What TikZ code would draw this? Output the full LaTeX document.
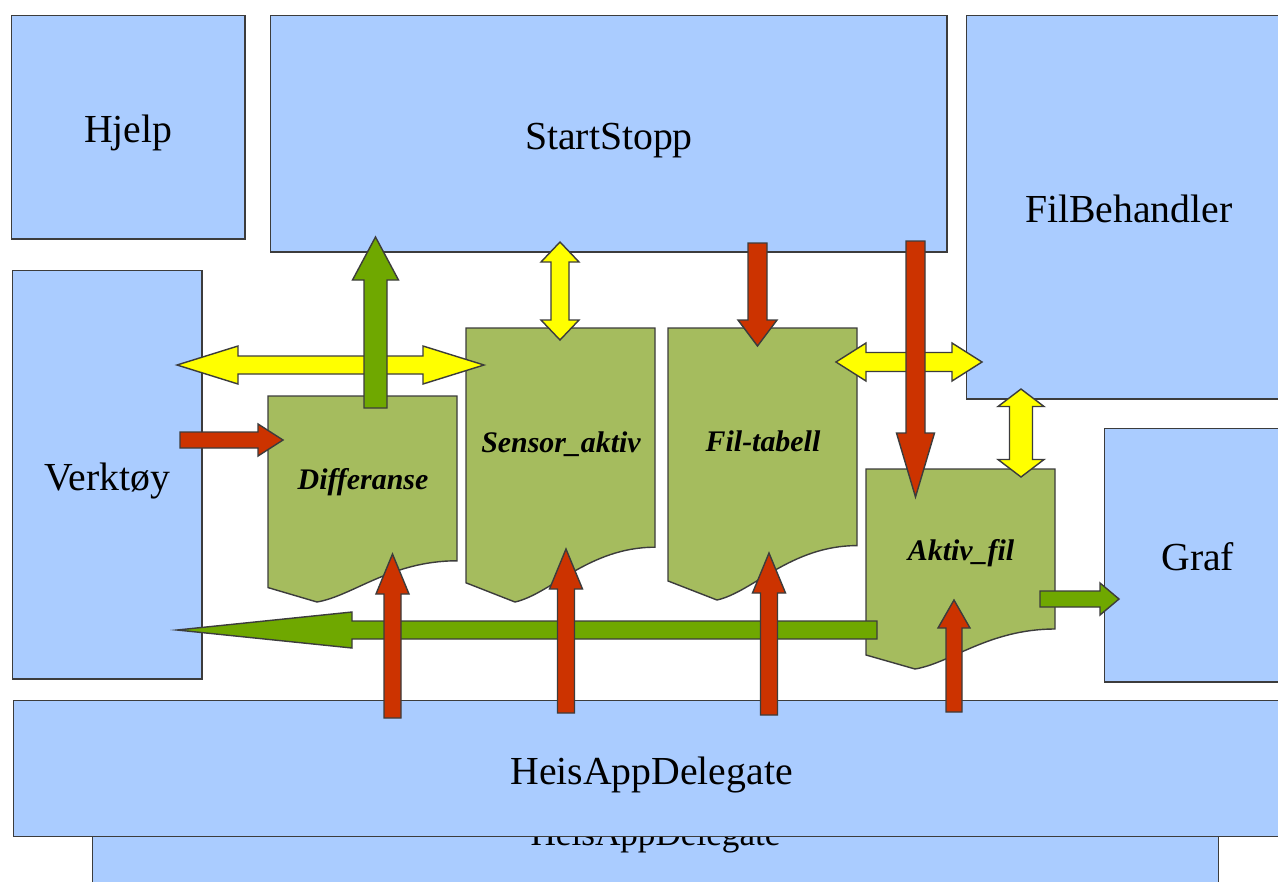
\documentclass[tikz,border=0pt]{standalone}
\usepackage{fontspec}
\setmainfont{Liberation Serif}
\usetikzlibrary{calc}

\definecolor{blaa}{RGB}{170,204,255}
\definecolor{dokgronn}{RGB}{165,188,94}
\definecolor{pilgronn}{RGB}{111,168,0}
\definecolor{pilrod}{RGB}{204,51,0}
\definecolor{pilgul}{RGB}{255,255,0}
\definecolor{kant}{RGB}{60,60,60}

\tikzset{
  boks/.style={draw=kant, line width=0.4pt, fill=blaa, anchor=north west, inner sep=0pt,
    text height=0.41cm, text depth=0.1cm, font=\fontsize{11.3}{13}\selectfont},
  dok/.style={draw=kant, line width=0.4pt, fill=dokgronn},
  doktekst/.style={anchor=base, font=\fontsize{8.5}{10}\selectfont\bfseries\itshape},
  pil/.style={draw=kant, line width=0.4pt},
}

% dokument: x, topp, hoyde, navn, tekst
\newcommand\dokument[5]{
  \draw[dok] (#1,#2) -- ({#1+189},#2) -- ({#1+189},{#2+0.8*#3})
    .. controls ({#1+123},{#2+0.8*#3}) and ({#1+85},{#2+0.97*#3}) .. ({#1+49},{#2+#3})
    -- (#1,{#2+0.93*#3}) -- cycle;
  \node[doktekst] (#4) at ({#1+95},{#2+0.455*#3}) {#5};
}

% pil: farge, hale, spiss, halvt skaft, halvt hode, hodelengde
\newcommand\pil[6]{
  \coordinate (pilrot) at ($(#3)!#6*0.01cm!(#2)$);
  \draw[pil, fill=#1] ($(#2)!#4*0.01cm!90:(#3)$) -- ($(pilrot)!#4*0.01cm!90:(#3)$)
    -- ($(pilrot)!#5*0.01cm!90:(#3)$) -- (#3) -- ($(pilrot)!#5*0.01cm!-90:(#3)$)
    -- ($(pilrot)!#4*0.01cm!-90:(#3)$) -- ($(#2)!#4*0.01cm!-90:(#3)$) -- cycle;
}

% dobbelpil: farge, spiss a, spiss b, halvt skaft, halvt hode, hodelengde
\newcommand\dobbelpil[6]{
  \coordinate (pilrotA) at ($(#2)!#6*0.01cm!(#3)$);
  \coordinate (pilrotB) at ($(#3)!#6*0.01cm!(#2)$);
  \draw[pil, fill=#1] (#2) -- ($(pilrotA)!#5*0.01cm!90:(#3)$) -- ($(pilrotA)!#4*0.01cm!90:(#3)$)
    -- ($(pilrotB)!#4*0.01cm!-90:(#2)$) -- ($(pilrotB)!#5*0.01cm!-90:(#2)$) -- (#3)
    -- ($(pilrotB)!#5*0.01cm!90:(#2)$) -- ($(pilrotB)!#4*0.01cm!90:(#2)$)
    -- ($(pilrotA)!#4*0.01cm!-90:(#3)$) -- ($(pilrotA)!#5*0.01cm!-90:(#3)$) -- cycle;
}

\begin{document}
\begin{tikzpicture}[x=0.01cm, y=-0.01cm]
  \useasboundingbox (0,0) rectangle (1278,881);
  \clip (0,0) rectangle (1278,881);
  \fill[white] (0,0) rectangle (1278,881);

  % moduler
  \node[boks, minimum width=11.25cm, minimum height=1.39cm, font=\fontsize{10}{12}\selectfont] (heisappbak) at (92,760) {HeisAppDelegate};
  \node[boks, minimum width=2.33cm, minimum height=2.23cm] (hjelp) at (11,15) {Hjelp};
  \node[boks, minimum width=6.76cm, minimum height=2.36cm] (startstopp) at (270,15) {StartStopp};
  \node[boks, minimum width=3.24cm, minimum height=3.83cm] (filbehandler) at (966,15) {FilBehandler};
  \node[boks, minimum width=1.89cm, minimum height=4.08cm] (verktoy) at (12,270) {Verktøy};
  \node[boks, minimum width=1.86cm, minimum height=2.53cm] (graf) at (1104,428) {Graf};
  \node[boks, minimum width=12.75cm, minimum height=1.36cm] (heisapp) at (13,700) {HeisAppDelegate};

  % data
  \dokument{268}{396}{206}{differanse}{Differanse}
  \dokument{466}{328}{274}{sensor}{Sensor\_aktiv}
  \dokument{668}{328}{272}{filtabell}{Fil-tabell}
  \dokument{866}{469}{200}{aktivfil}{Aktiv\_fil}

  \coordinate (gul1a) at (177,365);   \coordinate (gul1b) at (484,365);
  \coordinate (gul2a) at (560,242);   \coordinate (gul2b) at (560,340);
  \coordinate (gul3a) at (836,362);   \coordinate (gul3b) at (982,362);
  \coordinate (gul4a) at (1021,389);  \coordinate (gul4b) at (1021,477);

  \coordinate (gronn1a) at (375.5,408); \coordinate (gronn1b) at (375.5,237);
  \coordinate (gronn2a) at (877,630);   \coordinate (gronn2b) at (177,630);
  \coordinate (gronn3a) at (1040,599);  \coordinate (gronn3b) at (1119,599);

  \coordinate (rod1a) at (180,440);     \coordinate (rod1b) at (283,440);
  \coordinate (rod2a) at (757.5,243);   \coordinate (rod2b) at (757.5,346);
  \coordinate (rod3a) at (915.5,241);   \coordinate (rod3b) at (915.5,497);
  \coordinate (rod4a) at (954,712);     \coordinate (rod4b) at (954,600);

  \dobbelpil{pilgul}{gul1a}{gul1b}{9}{19}{61}
  \dobbelpil{pilgul}{gul2a}{gul2b}{9}{19}{20}
  \dobbelpil{pilgul}{gul3a}{gul3b}{9.5}{19}{30}
  \dobbelpil{pilgul}{gul4a}{gul4b}{11.5}{23}{17.5}

  \pil{pilgronn}{gronn1a}{gronn1b}{11.5}{23}{43}
  \pil{pilgronn}{gronn2a}{gronn2b}{9}{18}{175}
  \pil{pilgronn}{gronn3a}{gronn3b}{8}{16}{19}

  \pil{pilrod}{rod1a}{rod1b}{8}{16}{25}
  \pil{pilrod}{rod2a}{rod2b}{9.5}{19.5}{26}
  \pil{pilrod}{rod3a}{rod3b}{9.5}{19}{64}
  \pil{pilrod}{rod4a}{rod4b}{8}{16}{28}
  \foreach \i/\x/\bunn/\topp in {5/392.5/718/554, 6/566/713/549, 7/769/715/553}{
    \coordinate (rod\i a) at (\x,\bunn);
    \coordinate (rod\i b) at (\x,\topp);
    \pil{pilrod}{rod\i a}{rod\i b}{8.5}{16.5}{40}
  }
\end{tikzpicture}
\end{document}
